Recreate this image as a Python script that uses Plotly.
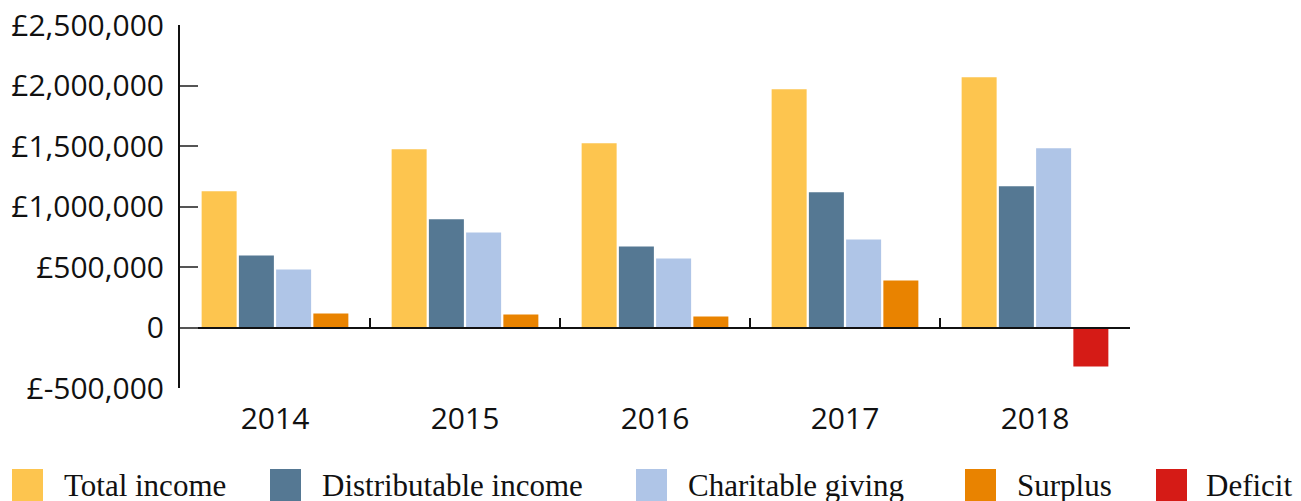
import plotly.graph_objects as go

years = ["2014", "2015", "2016", "2017", "2018"]
total_income = [1126000, 1473000, 1523000, 1970000, 2068000]
distributable_income = [596000, 894000, 670000, 1118000, 1167000]
charitable_giving = [480000, 786000, 571000, 728000, 1482000]
surplus = [116000, 108000, 91000, 389000, None]
deficit = [None, None, None, None, -323000]

series_names = ["Total income", "Distributable income", "Charitable giving", "Surplus", "Deficit"]
series_values = [total_income, distributable_income, charitable_giving, surplus, deficit]
colors = ["#FDC54F", "#557893", "#AFC5E7", "#E98300", "#D51B16"]
offset_groups = ["a", "b", "c", "d", "d"]

y_ticks = [-500000, 0, 500000, 1000000, 1500000, 2000000, 2500000]
y_ticktext = ["0" if v == 0 else f"£{v:,}" for v in y_ticks]
y_min, y_max = -500000, 2500000

fig = go.Figure()
for name, vals, col, og in zip(series_names, series_values, colors, offset_groups):
    fig.add_trace(go.Bar(
        x=years, y=vals, name=name, marker=dict(color=col, line=dict(width=0)),
        offsetgroup=og, showlegend=False,
    ))

# page offset of the default 8px body margin
OFF = 8
W, H = 1301 - OFF, 501 - OFF
plot_left, plot_right, plot_top, plot_bottom = 180 - OFF, 1130 - OFF, 25 - OFF, 388 - OFF
pw = plot_right - plot_left
ph = plot_bottom - plot_top

# custom legend (large square swatches like the reference)
legend_px = [12, 270, 636, 965, 1156]
legend_gap = [50, 50, 50, 50, 48]
shapes = []
annotations = []
for name, col, px, gap in zip(series_names, colors, legend_px, legend_gap):
    fx = px - OFF
    x0 = (fx - plot_left) / pw
    x1 = (fx + 31 - plot_left) / pw
    y_top = (plot_bottom - (469 - OFF)) / ph
    y_bot = (plot_bottom - (510 - OFF)) / ph
    shapes.append(dict(type="rect", xref="paper", yref="paper", x0=x0, x1=x1, y0=y_bot, y1=y_top,
                       fillcolor=col, line=dict(width=0)))
    annotations.append(dict(xref="paper", yref="paper", x=(fx + gap - plot_left) / pw,
                            y=(plot_bottom - (485 - OFF)) / ph, xanchor="left", yanchor="middle",
                            text=name, showarrow=False,
                            font=dict(family="Liberation Serif", size=31, color="#111111")))

zero_pos = (0 - y_min) / (y_max - y_min)

fig.update_layout(
    width=W, height=H,
    margin=dict(l=plot_left, r=W - plot_right, t=plot_top, b=H - plot_bottom, autoexpand=False),
    paper_bgcolor="white", plot_bgcolor="white",
    barmode="group", bargap=0.216, bargroupgap=0.06,
    shapes=shapes, annotations=annotations,
    xaxis=dict(
        type="category", range=[-0.5, 4.5], anchor="free", position=zero_pos,
        showline=True, linecolor="#111111", linewidth=2,
        ticks="inside", tickson="boundaries", ticklen=9, tickwidth=2, tickcolor="#111111",
        ticklabelstandoff=64, automargin=False, ticklabeloverflow="allow",
        tickfont=dict(family="Open Sans", size=30, color="#111111"),
        showgrid=False, zeroline=False,
    ),
    yaxis=dict(
        range=[y_min, y_max], tickvals=y_ticks, ticktext=y_ticktext,
        showline=True, linecolor="#111111", linewidth=2,
        ticks="inside", ticklen=18, tickwidth=2, tickcolor="#555555",
        ticklabelstandoff=8, automargin=False, ticklabeloverflow="allow",
        tickfont=dict(family="Open Sans", size=30, color="#111111"),
        showgrid=False, zeroline=False,
    ),
)

fig.write_html("out.html")
